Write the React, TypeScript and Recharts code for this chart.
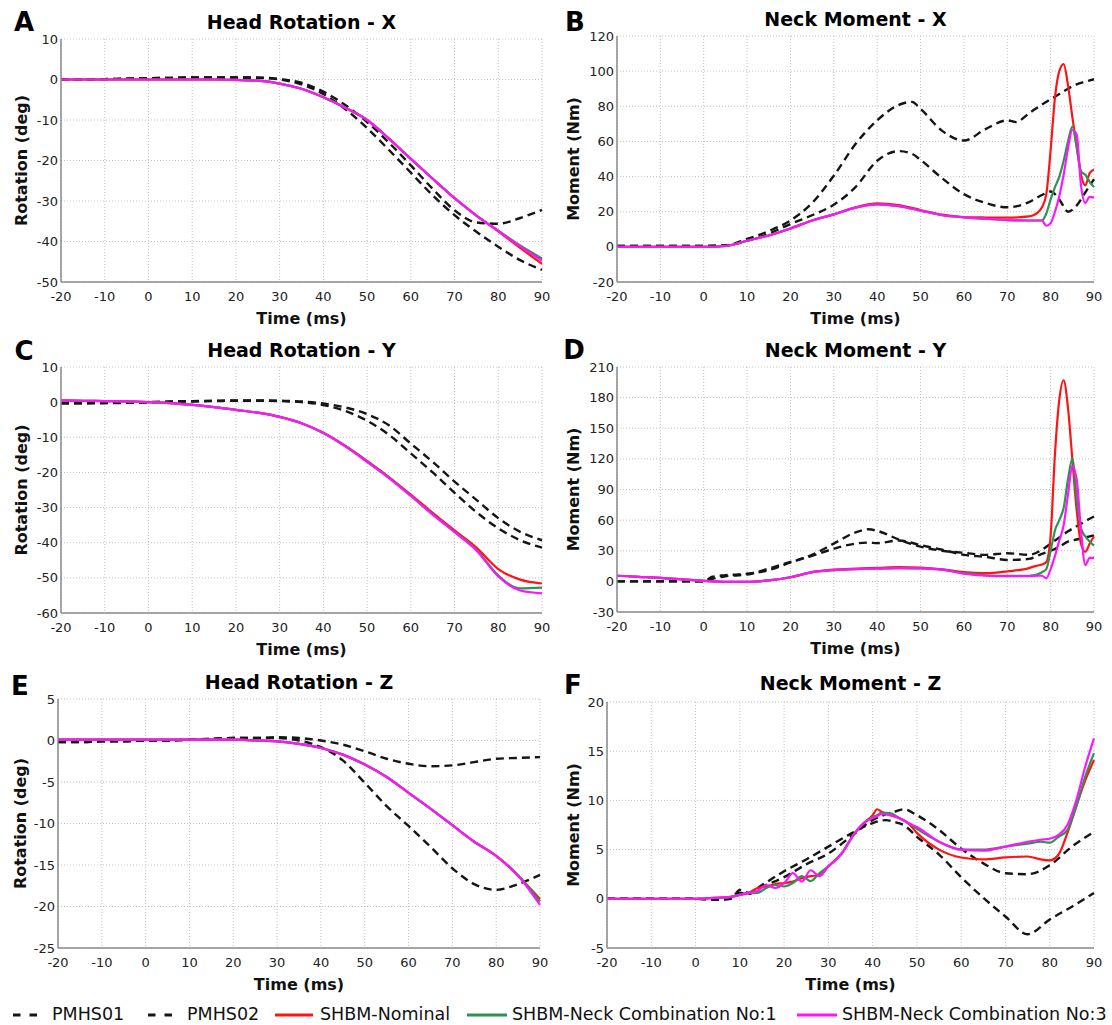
import React from "react";
import { LineChart, Line, XAxis, YAxis, CartesianGrid } from "recharts";

const FONT = "'DejaVu Sans', Verdana, Tahoma, sans-serif";

const PMHS = "#151515";
const NOMINAL = "#ff1414";
const COMBO1 = "#2f9252";
const COMBO3 = "#ff14ff";

// time axis (ms)
const timeTicks = [-20, -10, 0, 10, 20, 30, 40, 50, 60, 70, 80, 90];
const timeMinor = [-20, -15, -10, -5, 0, 5, 10, 15, 20, 25, 30, 35, 40, 45, 50, 55, 60, 65, 70, 75, 80, 85, 90];

// 5 ms sampling
const t5 = [-20, -15, -10, -5, 0, 5, 10, 15, 20, 25, 30, 35, 40, 45, 50, 55, 60, 65, 70, 75, 80, 85, 90];

// A - head rotation X (deg)
const aTicks = [-50, -40, -30, -20, -10, 0, 10];
const aMinor = [-50, -45, -40, -35, -30, -25, -20, -15, -10, -5, 0, 5, 10];
const aPmhs01 = [0, 0, 0.1, 0.2, 0.3, 0.4, 0.5, 0.5, 0.5, 0.5, 0.1, -0.8, -3.0, -6.3, -10.5, -15.6, -21.2, -27.0, -32.3, -35.3, -35.6, -34.2, -32.2];
const aPmhs02 = [0, 0, 0.1, 0.2, 0.3, 0.4, 0.5, 0.5, 0.5, 0.4, 0, -1.2, -3.6, -7.3, -12.0, -17.4, -23.0, -28.6, -33.5, -37.6, -41.3, -44.6, -47.0];
const aNominal = [0, 0, 0, 0, 0, 0, 0, 0, -0.1, -0.3, -1.0, -2.3, -4.4, -7.0, -10.0, -14.6, -19.6, -24.5, -29.3, -33.6, -37.5, -41.6, -45.5];
const aCombo1 = [0, 0, 0, 0, 0, 0, 0, 0, -0.1, -0.3, -1.0, -2.3, -4.4, -7.0, -10.0, -14.6, -19.6, -24.5, -29.3, -33.6, -37.3, -41.0, -44.2];
const aCombo3 = [0, 0, 0, 0, 0, 0, 0, 0, -0.1, -0.3, -1.0, -2.3, -4.4, -7.0, -10.0, -14.6, -19.6, -24.5, -29.3, -33.6, -37.4, -41.2, -44.7];

// C - head rotation Y (deg)
const cTicks = [-60, -50, -40, -30, -20, -10, 0, 10];
const cMinor = [-60, -55, -50, -45, -40, -35, -30, -25, -20, -15, -10, -5, 0, 5, 10];
const cPmhs01 = [-0.2, -0.2, -0.2, -0.1, 0, 0.2, 0.3, 0.4, 0.5, 0.5, 0.4, 0.2, -0.4, -1.5, -3.4, -6.6, -11.8, -17.0, -22.6, -27.8, -33.0, -36.9, -39.3];
const cPmhs02 = [-0.4, -0.4, -0.3, -0.2, -0.1, 0.1, 0.2, 0.3, 0.4, 0.4, 0.3, 0, -0.8, -2.5, -5.3, -9.3, -14.6, -20.0, -25.8, -31.3, -35.9, -39.3, -41.4];
const cNominal = [0.5, 0.4, 0.3, 0.2, 0, -0.3, -0.8, -1.4, -2.2, -3.0, -4.2, -6.0, -8.7, -12.4, -16.7, -21.3, -26.3, -31.5, -36.5, -41.4, -47.5, -50.5, -51.6];
const cCombo1 = [0.5, 0.4, 0.3, 0.2, 0, -0.3, -0.8, -1.4, -2.2, -3.0, -4.2, -6.0, -8.8, -12.5, -16.9, -21.5, -26.6, -31.9, -36.9, -42.0, -49.3, -53.0, -52.8];
const cCombo3 = [0.5, 0.4, 0.3, 0.2, 0, -0.3, -0.8, -1.4, -2.2, -3.0, -4.2, -6.0, -8.8, -12.6, -17.0, -21.6, -26.7, -32.0, -37.0, -42.2, -49.6, -53.6, -54.4];

// E - head rotation Z (deg)
const eTicks = [-25, -20, -15, -10, -5, 0, 5];
const eMinor = [-25, -22.5, -20, -17.5, -15, -12.5, -10, -7.5, -5, -2.5, 0, 2.5, 5];
const ePmhs01 = [-0.2, -0.2, -0.1, -0.1, 0, 0, 0.1, 0.2, 0.3, 0.3, 0.4, 0.3, 0, -0.5, -1.3, -2.2, -2.8, -3.1, -3.0, -2.6, -2.2, -2.1, -2.0];
const ePmhs02 = [-0.2, -0.2, -0.1, -0.1, 0, 0, 0.1, 0.2, 0.3, 0.3, 0.3, 0, -0.8, -2.4, -5.1, -7.9, -10.3, -12.8, -15.4, -17.3, -18.0, -17.3, -16.2];
const eNominal = [0.1, 0.1, 0.1, 0.1, 0.1, 0.1, 0.1, 0.1, 0.1, 0, -0.1, -0.4, -0.9, -1.7, -2.9, -4.4, -6.3, -8.2, -10.2, -12.2, -13.9, -16.3, -19.1];
const eCombo1 = [0.1, 0.1, 0.1, 0.1, 0.1, 0.1, 0.1, 0.1, 0.1, 0, -0.1, -0.4, -0.9, -1.7, -2.9, -4.4, -6.3, -8.2, -10.2, -12.2, -13.9, -16.2, -19.4];
const eCombo3 = [0.1, 0.1, 0.1, 0.1, 0.1, 0.1, 0.1, 0.1, 0.1, 0, -0.1, -0.4, -0.9, -1.7, -2.9, -4.4, -6.3, -8.2, -10.2, -12.2, -13.9, -16.3, -19.8];

// B - neck moment X (Nm)
const bTicks = [-20, 0, 20, 40, 60, 80, 100, 120];
const bMinor = [-20, -10, 0, 10, 20, 30, 40, 50, 60, 70, 80, 90, 100, 110, 120];
const bTimePmhs = [-20, -15, -10, -5, 0, 5, 10, 15, 20, 25, 30, 35, 40, 45, 48, 50, 55, 60, 65, 70, 72, 75, 78, 80, 82, 84, 86, 88, 90];
const bPmhs01 = [0.5, 0.5, 0.5, 0.5, 0.5, 0.8, 4.5, 9, 15, 25, 40.5, 58.5, 72, 80.8, 82.5, 78.5, 66, 60.5, 67, 72, 71, 76, 81, 84, 87, 90, 92.5, 94, 95.4];
const bPmhs02 = [0.5, 0.5, 0.5, 0.5, 0.5, 0.8, 3.5, 7.5, 13, 18, 24, 34, 49, 54.5, 53, 49.5, 39, 30, 25, 22.5, 23, 25.5, 29.5, 31.5, 27, 20, 23.5, 31, 38.5];
const bTimeSim = [-20, -15, -10, -5, 0, 5, 10, 15, 20, 25, 30, 35, 40, 45, 50, 55, 60, 65, 70, 75, 76, 77, 78, 79, 80, 81, 82, 83, 84, 85, 86, 87, 88, 89, 90];
const bNominal = [0, 0, 0, 0, 0, 0.5, 3.5, 6.5, 10.5, 15, 18.5, 22.5, 24.8, 23.8, 21, 18.3, 17, 16.7, 16.6, 17.3, 18, 19.5, 22.5, 30, 55, 85, 100, 104, 92, 74, 57, 41, 35, 42, 44];
const bCombo1 = [0, 0, 0, 0, 0, 0.5, 3.5, 6.5, 10.5, 15, 18.5, 22.3, 24.2, 23.2, 20.6, 18, 16.8, 16, 15.2, 15, 15, 15, 15, 19, 27, 34, 40, 49, 60, 68.5, 57, 43, 41, 37, 34];
const bCombo3 = [0, 0, 0, 0, 0, 0.5, 3.5, 6.5, 10.5, 15, 18.5, 22.3, 24.2, 23.2, 20.6, 18, 16.8, 16, 15.2, 15, 15, 15, 15, 12, 13.5, 20, 29, 41, 56, 66.5, 64, 35, 25, 28.5, 28];

// D - neck moment Y (Nm)
const dTicks = [-30, 0, 30, 60, 90, 120, 150, 180, 210];
const dMinor = [-30, -15, 0, 15, 30, 45, 60, 75, 90, 105, 120, 135, 150, 165, 180, 195, 210];
const dTimePmhs = [-20, -15, -10, -5, 0, 2, 5, 10, 15, 20, 25, 30, 35, 38, 40, 45, 50, 55, 60, 65, 70, 75, 78, 80, 82, 84, 86, 88, 90];
const dPmhs01 = [0, 0, 0, 0, 0, 4.5, 6, 7.5, 11, 18.5, 26, 37, 48, 51, 49.5, 41, 34, 30, 28, 26, 27.5, 26, 31, 37, 43, 49, 54, 59, 63.5];
const dPmhs02 = [0, 0, 0, 0, 0, 2.5, 5, 6.7, 12.5, 19, 25, 32, 37, 38, 37.5, 40, 35.5, 31, 26, 24, 21, 22, 27, 30, 34, 39, 41, 43, 45];
const dNominal = [5.5, 4.5, 3.5, 2, 0.5, -0.5, -0.5, 1, 4, 9, 11.5, 12.5, 13.2, 14, 13.5, 11.8, 9, 8, 9.8, 13, 14.5, 15.5, 16.5, 19, 45, 125, 178, 197, 170, 120, 70, 37, 29, 37, 44];
const dCombo1 = [5.5, 4.5, 3.5, 2, 0.5, -0.5, -0.5, 1, 4, 9, 11, 12, 12.5, 13, 12.8, 11.5, 8, 6, 5.5, 5.5, 6, 7, 9, 12, 30, 50, 60, 72, 100, 120, 82, 52, 44, 39, 35];
const dCombo3 = [5.5, 4.5, 3.5, 2, 0.5, -0.5, -0.5, 1, 4, 9, 11, 12, 12.5, 13, 12.8, 11.5, 7.5, 5.5, 5, 5, 5.2, 5.5, 5.5, 3, 12, 25, 40, 55, 85, 113, 100, 50, 16, 23, 23];

// F - neck moment Z (Nm)
const fTicks = [-5, 0, 5, 10, 15, 20];
const fMinor = [-5, -2.5, 0, 2.5, 5, 7.5, 10, 12.5, 15, 17.5, 20];
const fTimePmhs = [-20, -15, -10, -5, 0, 5, 8, 10, 12, 15, 20, 25, 30, 35, 40, 43, 45, 47, 50, 55, 60, 65, 70, 75, 80, 85, 90];
const fPmhs01 = [0, 0, 0, 0, 0, -0.1, 0.1, 0.6, 0.5, 1.2, 2.2, 3.5, 4.6, 6.3, 8.0, 8.6, 8.85, 9.1, 8.5, 7.0, 5.1, 3.6, 2.6, 2.5, 3.4, 5.3, 6.8];
const fPmhs02 = [0, 0, 0, 0, 0, -0.1, 0, 0.9, 0.6, 1.4, 2.8, 4.0, 5.3, 6.6, 7.7, 8.0, 7.8, 7.5, 6.3, 4.5, 2.2, 0.1, -1.8, -3.6, -2.1, -0.8, 0.6];
const fTimeSim = [-20, -15, -10, -5, 0, 5, 8, 10, 12, 14, 16, 18, 20, 22, 24, 26, 28, 30, 33, 36, 38, 40, 41, 42, 44, 46, 48, 50, 55, 60, 65, 70, 75, 78, 80, 82, 84, 86, 88, 90];
const fNominal = [0, 0, 0, 0, 0, 0.1, 0.2, 0.4, 0.6, 1.1, 1.25, 1.5, 1.6, 1.75, 2.1, 2.3, 2.4, 3.3, 4.6, 6.7, 7.7, 8.5, 9.1, 8.85, 8.5, 8.2, 7.7, 6.7, 5.0, 4.2, 4.0, 4.2, 4.3, 4.0, 3.9, 4.5, 6.7, 9.4, 12, 14.1];
const fCombo1 = [0, 0, 0, 0, 0, 0.1, 0.2, 0.4, 0.6, 0.6, 1.1, 1.4, 1.25, 1.6, 2.3, 1.8, 2.6, 3.3, 4.6, 6.7, 7.7, 8.3, 8.5, 8.75, 8.7, 8.2, 7.7, 7.1, 5.8, 5.0, 5.0, 5.3, 5.6, 5.8, 5.7, 6.3, 7.0, 9.4, 12.4, 14.8];
const fCombo3 = [0, 0, 0, 0, 0, 0.1, 0.2, 0.4, 0.6, 0.8, 1.4, 1.1, 1.6, 2.6, 1.75, 2.9, 2.3, 3.3, 4.6, 6.7, 7.7, 8.2, 8.4, 8.6, 8.5, 8.2, 7.7, 7.3, 5.8, 5.0, 4.9, 5.3, 5.8, 6.0, 6.1, 6.5, 7.5, 10, 13.4, 16.3];

type Series = { id: string; t: number[]; v: number[]; color: string; dashed: boolean };

const makeSeries = (tp: number[], p1: number[], p2: number[], ts: number[], nom: number[], c1: number[], c3: number[]): Series[] => [
  { id: "pmhs01", t: tp, v: p1, color: PMHS, dashed: true },
  { id: "pmhs02", t: tp, v: p2, color: PMHS, dashed: true },
  { id: "nominal", t: ts, v: nom, color: NOMINAL, dashed: false },
  { id: "combo1", t: ts, v: c1, color: COMBO1, dashed: false },
  { id: "combo3", t: ts, v: c3, color: COMBO3, dashed: false },
];

const panels = [
  {
    letter: "A", title: "Head Rotation - X", yLabel: "Rotation (deg)",
    left: 61, top: 39, width: 481, height: 243, yTicks: aTicks, yMinor: aMinor,
    yLabelX: 21, titleY: 22, letterX: 24, letterY: 22,
    series: makeSeries(t5, aPmhs01, aPmhs02, t5, aNominal, aCombo1, aCombo3),
  },
  {
    letter: "B", title: "Neck Moment - X", yLabel: "Moment (Nm)",
    left: 617, top: 36, width: 477, height: 246, yTicks: bTicks, yMinor: bMinor,
    yLabelX: 573, titleY: 19, letterX: 575, letterY: 22,
    series: makeSeries(bTimePmhs, bPmhs01, bPmhs02, bTimeSim, bNominal, bCombo1, bCombo3),
  },
  {
    letter: "C", title: "Head Rotation - Y", yLabel: "Rotation (deg)",
    left: 61, top: 367, width: 481, height: 246, yTicks: cTicks, yMinor: cMinor,
    yLabelX: 21, titleY: 350, letterX: 24, letterY: 351,
    series: makeSeries(t5, cPmhs01, cPmhs02, t5, cNominal, cCombo1, cCombo3),
  },
  {
    letter: "D", title: "Neck Moment - Y", yLabel: "Moment (Nm)",
    left: 617, top: 367, width: 477, height: 245, yTicks: dTicks, yMinor: dMinor,
    yLabelX: 573, titleY: 350, letterX: 574, letterY: 350,
    series: makeSeries(dTimePmhs, dPmhs01, dPmhs02, bTimeSim, dNominal, dCombo1, dCombo3),
  },
  {
    letter: "E", title: "Head Rotation - Z", yLabel: "Rotation (deg)",
    left: 58, top: 699, width: 482, height: 249, yTicks: eTicks, yMinor: eMinor,
    yLabelX: 20, titleY: 682, letterX: 20, letterY: 686,
    series: makeSeries(t5, ePmhs01, ePmhs02, t5, eNominal, eCombo1, eCombo3),
  },
  {
    letter: "F", title: "Neck Moment - Z", yLabel: "Moment (Nm)",
    left: 607, top: 702, width: 487, height: 246, yTicks: fTicks, yMinor: fMinor,
    yLabelX: 573, titleY: 683, letterX: 573, letterY: 685,
    series: makeSeries(fTimePmhs, fPmhs01, fPmhs02, fTimeSim, fNominal, fCombo1, fCombo3),
  },
];

const legendItems = [
  { label: "PMHS01", color: PMHS, dashed: true, x0: 13, x1: 37, tx: 52 },
  { label: "PMHS02", color: PMHS, dashed: true, x0: 148, x1: 172, tx: 187 },
  { label: "SHBM-Nominal", color: NOMINAL, dashed: false, x0: 275, x1: 313, tx: 320 },
  { label: "SHBM-Neck Combination No:1", color: COMBO1, dashed: false, x0: 467, x1: 507, tx: 512 },
  { label: "SHBM-Neck Combination No:3", color: COMBO3, dashed: false, x0: 797, x1: 837, tx: 842 },
];

const Y_AXIS_W = 70;
const X_AXIS_H = 50;
const axisLine = { stroke: "#8a8a8a", strokeWidth: 1.5 };
const tickStyle = { fontSize: 13, fill: "#222", fontFamily: FONT };
const labelStyle = { fontSize: 16, fontWeight: 700, fill: "#111", fontFamily: FONT };

function Centered({ x, y, size, bold, children }: { x: number; y: number; size: number; bold?: boolean; children: React.ReactNode }) {
  return (
    <div
      style={{
        position: "absolute", left: x, top: y, transform: "translate(-50%, -50%)",
        fontSize: size, fontWeight: bold ? 700 : 400, lineHeight: 1, whiteSpace: "nowrap", color: "#000",
      }}
    >
      {children}
    </div>
  );
}

function Panel({ p }: { p: (typeof panels)[number] }) {
  const domainY = [p.yTicks[0], p.yTicks[p.yTicks.length - 1]];
  const chartLeft = p.left - Y_AXIS_W;
  return (
    <>
      <div style={{ position: "absolute", left: chartLeft, top: p.top - 10 }}>
        <LineChart
          width={Y_AXIS_W + p.width + 10}
          height={10 + p.height + X_AXIS_H}
          margin={{ top: 10, right: 10, bottom: 0, left: 0 }}
        >
          <CartesianGrid stroke="#c2c2c2" strokeDasharray="1 2" />
          <XAxis
            xAxisId="minor" dataKey="t" type="number" domain={[-20, 90]} ticks={timeMinor} interval={0}
            mirror height={1} axisLine={false} tickSize={4} tickLine={{ stroke: "#8a8a8a" }}
            tickFormatter={() => ""}
          />
          <XAxis
            dataKey="t" type="number" domain={[-20, 90]} ticks={timeTicks} interval={0}
            height={X_AXIS_H} axisLine={axisLine} tickLine={false} tickSize={0} tickMargin={10} tick={tickStyle}
            label={{ value: "Time (ms)", position: "insideBottom", offset: 8, style: labelStyle }}
          />
          <YAxis
            yAxisId="minor" type="number" domain={domainY} ticks={p.yMinor} interval={0}
            mirror width={1} axisLine={false} tickSize={4} tickLine={{ stroke: "#8a8a8a" }}
            tickFormatter={() => ""}
          />
          <YAxis
            type="number" domain={domainY} ticks={p.yTicks} interval={0}
            width={Y_AXIS_W} axisLine={axisLine} tickLine={false} tickSize={0} tickMargin={3} tick={tickStyle}
            label={{
              value: p.yLabel, angle: -90, position: "insideLeft", offset: p.yLabelX - chartLeft,
              style: { ...labelStyle, textAnchor: "middle" },
            }}
          />
          {p.series.map((s) => (
            <Line
              key={s.id}
              data={s.t.map((t, i) => ({ t, v: s.v[i] }))}
              dataKey="v"
              type="monotone"
              stroke={s.color}
              strokeWidth={s.dashed ? 2.4 : 2.2}
              strokeDasharray={s.dashed ? "8 5" : undefined}
              dot={false}
              activeDot={false}
              isAnimationActive={false}
            />
          ))}
        </LineChart>
      </div>
      <Centered x={p.left + p.width / 2} y={p.titleY} size={19} bold>{p.title}</Centered>
      <Centered x={p.letterX} y={p.letterY} size={26} bold>{p.letter}</Centered>
    </>
  );
}

export default function App() {
  return (
    <div style={{ position: "absolute", left: 0, top: 0, width: 1112, height: 1025, background: "#fff", fontFamily: FONT, overflow: "hidden" }}>
      {panels.map((p) => <Panel key={p.letter} p={p} />)}
      {legendItems.map((it) => (
        <React.Fragment key={it.label}>
          <svg style={{ position: "absolute", left: it.x0, top: 1010 }} width={it.x1 - it.x0} height={10}>
            <line x1={0} y1={5} x2={it.x1 - it.x0} y2={5} stroke={it.color} strokeWidth={3} strokeDasharray={it.dashed ? "7.5 9" : undefined} />
          </svg>
          <div style={{ position: "absolute", left: it.tx, top: 1015, transform: "translateY(-50%)", fontSize: 17.5, lineHeight: 1, whiteSpace: "nowrap", color: "#111" }}>
            {it.label}
          </div>
        </React.Fragment>
      ))}
    </div>
  );
}
